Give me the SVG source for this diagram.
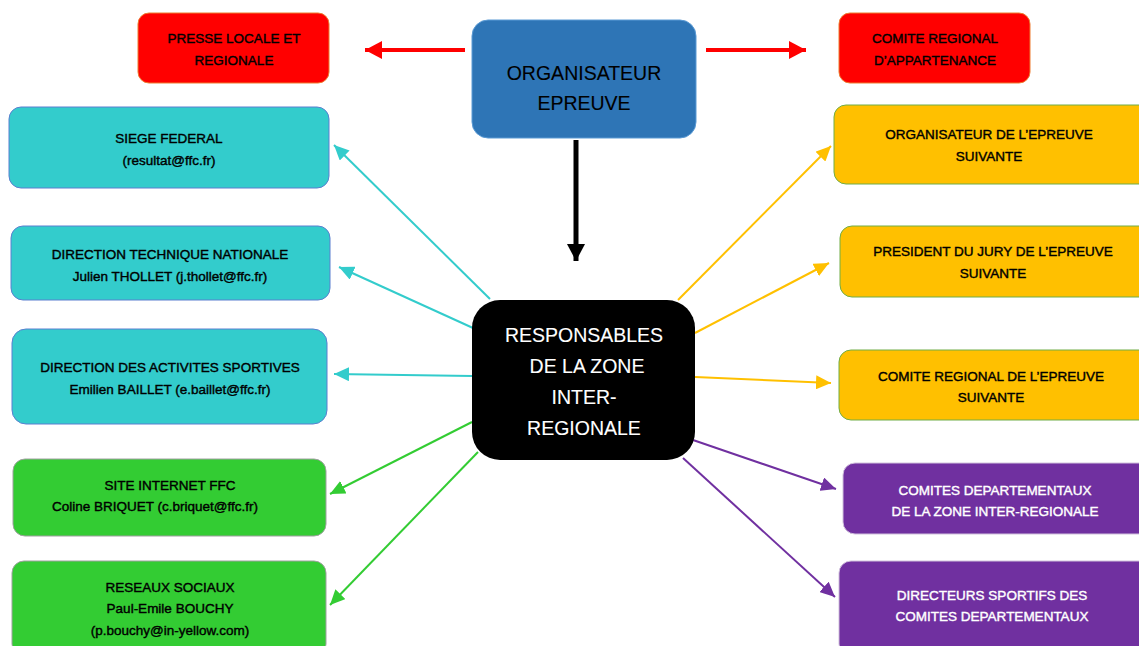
<svg xmlns="http://www.w3.org/2000/svg" width="1139" height="646" viewBox="0 0 1139 646">
<defs>
<style>
.t{font-family:"Liberation Sans",Arial,sans-serif;font-size:13.5px;text-anchor:middle;fill:#000;stroke:#000;stroke-width:0.4}
.w{fill:#fff;stroke:#fff}
.big{font-size:19.5px;stroke-width:0.1}
.teal{fill:#33CCCC;stroke:#5B7FD0;stroke-width:1}
.green{fill:#33CC33;stroke:#A0A0A0;stroke-width:1}
.yel{fill:#FFC000;stroke:#70AD47;stroke-width:1}
.pur{fill:#7030A0;stroke:#D0C0DC;stroke-width:1}
.red{fill:#FF0000;stroke:#ED7D31;stroke-width:1}
.c{fill:none;stroke-width:2}
</style>
<marker id="mTeal" markerUnits="userSpaceOnUse" markerWidth="16" markerHeight="14" refX="15" refY="7" orient="auto"><path d="M0,0 L15,7 L0,14 z" fill="#33CCCC"/></marker>
<marker id="mGreen" markerUnits="userSpaceOnUse" markerWidth="16" markerHeight="14" refX="15" refY="7" orient="auto"><path d="M0,0 L15,7 L0,14 z" fill="#33CC33"/></marker>
<marker id="mYel" markerUnits="userSpaceOnUse" markerWidth="16" markerHeight="14" refX="15" refY="7" orient="auto"><path d="M0,0 L15,7 L0,14 z" fill="#FFC000"/></marker>
<marker id="mPur" markerUnits="userSpaceOnUse" markerWidth="16" markerHeight="14" refX="15" refY="7" orient="auto"><path d="M0,0 L15,7 L0,14 z" fill="#7030A0"/></marker>
<marker id="mRed" markerUnits="userSpaceOnUse" markerWidth="18" markerHeight="18" refX="17" refY="9" orient="auto"><path d="M0,0 L17,9 L0,18 z" fill="#FF0000"/></marker>
<marker id="mBlk" markerUnits="userSpaceOnUse" markerWidth="18" markerHeight="20" refX="17" refY="9" orient="auto"><path d="M0,0 L17,9 L0,18 z" fill="#000"/></marker>
</defs>
<rect width="1139" height="646" fill="#fff"/>

<g id="connectors">
<line x1="465" y1="50" x2="365" y2="50" stroke="#FF0000" stroke-width="4" marker-end="url(#mRed)"/>
<line x1="706" y1="50" x2="806" y2="50" stroke="#FF0000" stroke-width="4" marker-end="url(#mRed)"/>
<line x1="576" y1="140" x2="576" y2="261" stroke="#000" stroke-width="5" marker-end="url(#mBlk)"/>
<line class="c" stroke="#33CCCC" x1="490" y1="299" x2="334" y2="145" marker-end="url(#mTeal)"/>
<line class="c" stroke="#33CCCC" x1="473" y1="328" x2="339" y2="267" marker-end="url(#mTeal)"/>
<line class="c" stroke="#33CCCC" x1="472" y1="376" x2="334" y2="374" marker-end="url(#mTeal)"/>
<line class="c" stroke="#33CC33" x1="472" y1="422" x2="330" y2="494" marker-end="url(#mGreen)"/>
<line class="c" stroke="#33CC33" x1="478" y1="452" x2="330" y2="605" marker-end="url(#mGreen)"/>
<line class="c" stroke="#FFC000" x1="678" y1="300" x2="831" y2="146" marker-end="url(#mYel)"/>
<line class="c" stroke="#FFC000" x1="695" y1="333" x2="829" y2="263" marker-end="url(#mYel)"/>
<line class="c" stroke="#FFC000" x1="695" y1="377" x2="831" y2="383" marker-end="url(#mYel)"/>
<line class="c" stroke="#7030A0" x1="693" y1="440" x2="836" y2="489" marker-end="url(#mPur)"/>
<line class="c" stroke="#7030A0" x1="683" y1="458" x2="835" y2="597" marker-end="url(#mPur)"/>
</g>

<g id="presse">
<rect class="red" x="138" y="13" width="191" height="70" rx="11"/>
<text class="t" x="234" y="43">PRESSE LOCALE ET</text>
<text class="t" x="234" y="65">REGIONALE</text>
</g>

<g id="organisateur">
<rect x="472" y="20" width="224" height="118" rx="16" fill="#2E75B6" stroke="#5B9BD5" stroke-width="1"/>
<text class="t big" x="584" y="80">ORGANISATEUR</text>
<text class="t big" x="584" y="110">EPREUVE</text>
</g>

<g id="comite-appartenance">
<rect class="red" x="839" y="13" width="191" height="70" rx="11"/>
<text class="t" x="935" y="43">COMITE REGIONAL</text>
<text class="t" x="935" y="65">D’APPARTENANCE</text>
</g>

<g id="responsables">
<rect x="472" y="300" width="223" height="160" rx="28" fill="#000"/>
<text class="t big w" x="584" y="342">RESPONSABLES</text>
<text class="t big w" x="587" y="373">DE LA ZONE</text>
<text class="t big w" x="584" y="404">INTER-</text>
<text class="t big w" x="584" y="435">REGIONALE</text>
</g>

<g id="siege">
<rect class="teal" x="9" y="107" width="320" height="81" rx="12"/>
<text class="t" x="169" y="143">SIEGE FEDERAL</text>
<text class="t" x="169" y="165">(resultat@ffc.fr)</text>
</g>

<g id="dtn">
<rect class="teal" x="11" y="226" width="319" height="74" rx="12"/>
<text class="t" x="170" y="259">DIRECTION TECHNIQUE NATIONALE</text>
<text class="t" x="170" y="281">Julien THOLLET (j.thollet@ffc.fr)</text>
</g>

<g id="das">
<rect class="teal" x="12" y="329" width="315" height="95" rx="14"/>
<text class="t" x="170" y="372">DIRECTION DES ACTIVITES SPORTIVES</text>
<text class="t" x="170" y="394">Emilien BAILLET (e.baillet@ffc.fr)</text>
</g>

<g id="site">
<rect class="green" x="13" y="459" width="313" height="77" rx="12"/>
<text class="t" x="170" y="490">SITE INTERNET FFC</text>
<text class="t" x="155" y="511">Coline BRIQUET (c.briquet@ffc.fr)</text>
</g>

<g id="reseaux">
<rect class="green" x="12" y="561" width="314" height="95" rx="12"/>
<text class="t" x="170" y="592">RESEAUX SOCIAUX</text>
<text class="t" x="170" y="613">Paul-Emile BOUCHY</text>
<text class="t" x="170" y="635">(p.bouchy@in-yellow.com)</text>
</g>

<g id="org-suivante">
<rect class="yel" x="834" y="105" width="320" height="79" rx="12"/>
<text class="t" x="989" y="139">ORGANISATEUR DE L’EPREUVE</text>
<text class="t" x="989" y="161">SUIVANTE</text>
</g>

<g id="president">
<rect class="yel" x="840" y="226" width="314" height="71" rx="12"/>
<text class="t" x="993" y="256">PRESIDENT DU JURY DE L’EPREUVE</text>
<text class="t" x="993" y="278">SUIVANTE</text>
</g>

<g id="comite-suivante">
<rect class="yel" x="839" y="350" width="315" height="70" rx="12"/>
<text class="t" x="991" y="381">COMITE REGIONAL DE L’EPREUVE</text>
<text class="t" x="991" y="402">SUIVANTE</text>
</g>

<g id="comites-dep">
<rect class="pur" x="843" y="463" width="311" height="71" rx="12"/>
<text class="t w" x="995" y="495">COMITES DEPARTEMENTAUX</text>
<text class="t w" x="995" y="516">DE LA ZONE INTER-REGIONALE</text>
</g>

<g id="directeurs">
<rect class="pur" x="839" y="561" width="315" height="95" rx="12"/>
<text class="t w" x="992" y="600">DIRECTEURS SPORTIFS DES</text>
<text class="t w" x="992" y="621">COMITES DEPARTEMENTAUX</text>
</g>
</svg>
